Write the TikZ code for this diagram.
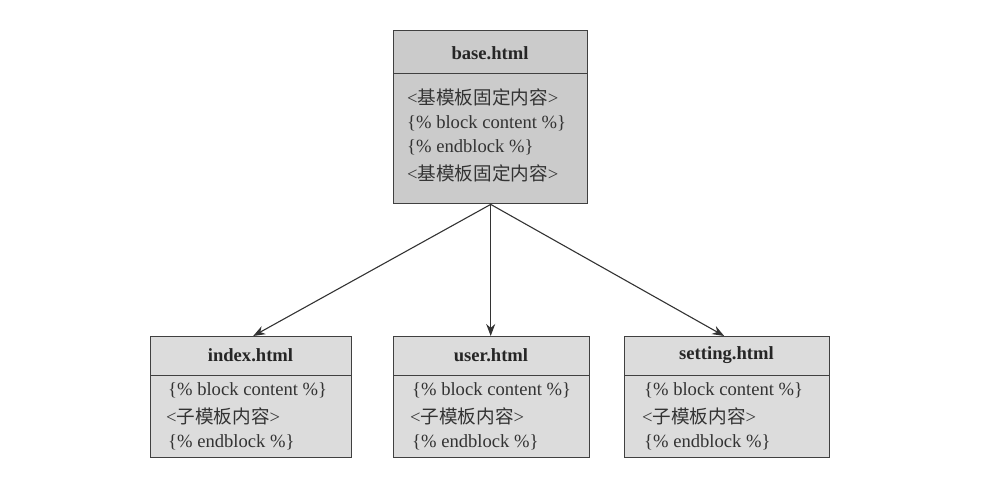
\documentclass[tikz,border=0pt]{standalone}
\usepackage{fontspec}
\setmainfont{Liberation Serif}
\newfontfamily\cjk{Noto Sans CJK SC}
\usetikzlibrary{arrows.meta}
\definecolor{ink}{HTML}{333333}
\definecolor{edge}{HTML}{404040}
\definecolor{basefill}{HTML}{CBCBCB}
\definecolor{childfill}{HTML}{DCDCDC}
\begin{document}
\begin{tikzpicture}[x=1pt,y=-1pt,
  cell/.style={draw=edge,line width=1.4pt,rectangle,inner sep=0pt,anchor=north west},
  basecell/.style={cell,fill=basefill},
  childcell/.style={cell,fill=childfill},
  titletext/.style={font=\fontsize{18.6}{20}\selectfont\bfseries,text=black!85,inner sep=0pt},
  bodytext/.style={font=\fontsize{18.6}{20}\selectfont,text=ink,inner sep=0pt,anchor=west},
  link/.style={draw=ink,line width=1.1pt,-{Stealth[length=12pt,width=9pt]}}
]
\useasboundingbox (0,0) rectangle (1005,481);
% base.html
\node[basecell,minimum width=194pt,minimum height=43pt] (basehead) at (393,30) {};
\node[basecell,minimum width=194pt,minimum height=130pt] (basebody) at (393,73) {};
\node[titletext] (basetitle) at (490,53) {base.html};
\node[bodytext] (b1) at (407,97) {<{\cjk 基模板固定内容}>};
\node[bodytext] (b2) at (407,123) {\{\% block content \%\}};
\node[bodytext] (b3) at (407,147) {\{\% endblock \%\}};
\node[bodytext] (b4) at (407,173) {<{\cjk 基模板固定内容}>};
% index.html
\node[childcell,minimum width=201pt,minimum height=39pt] (indexhead) at (150,336) {};
\node[childcell,minimum width=201pt,minimum height=82pt] (indexbody) at (150,375) {};
\node[titletext] (indextitle) at (250.5,355) {index.html};
\node[bodytext] (i1) at (168,390) {\{\% block content \%\}};
\node[bodytext] (i2) at (166,416) {<{\cjk 子模板内容}>};
\node[bodytext] (i3) at (168,442) {\{\% endblock \%\}};
% user.html
\node[childcell,minimum width=196pt,minimum height=39pt] (userhead) at (393,336) {};
\node[childcell,minimum width=196pt,minimum height=82pt] (userbody) at (393,375) {};
\node[titletext] (usertitle) at (491,355) {user.html};
\node[bodytext] (u1) at (412,390) {\{\% block content \%\}};
\node[bodytext] (u2) at (410,416) {<{\cjk 子模板内容}>};
\node[bodytext] (u3) at (412,442) {\{\% endblock \%\}};
% setting.html
\node[childcell,minimum width=205pt,minimum height=39pt] (sethead) at (624,336) {};
\node[childcell,minimum width=205pt,minimum height=82pt] (setbody) at (624,375) {};
\node[titletext] (settitle) at (726.5,355) {setting.html};
\node[bodytext] (s1) at (644,390) {\{\% block content \%\}};
\node[bodytext] (s2) at (642,416) {<{\cjk 子模板内容}>};
\node[bodytext] (s3) at (644,442) {\{\% endblock \%\}};
% connectors
\coordinate (apex) at (basebody.south);
\draw[link] (apex) -- ([xshift=2pt]indexhead.north);
\draw[link] (apex) -- (apex |- userhead.north);
\draw[link] (apex) -- ([xshift=-3pt]sethead.north);
\end{tikzpicture}
\end{document}
